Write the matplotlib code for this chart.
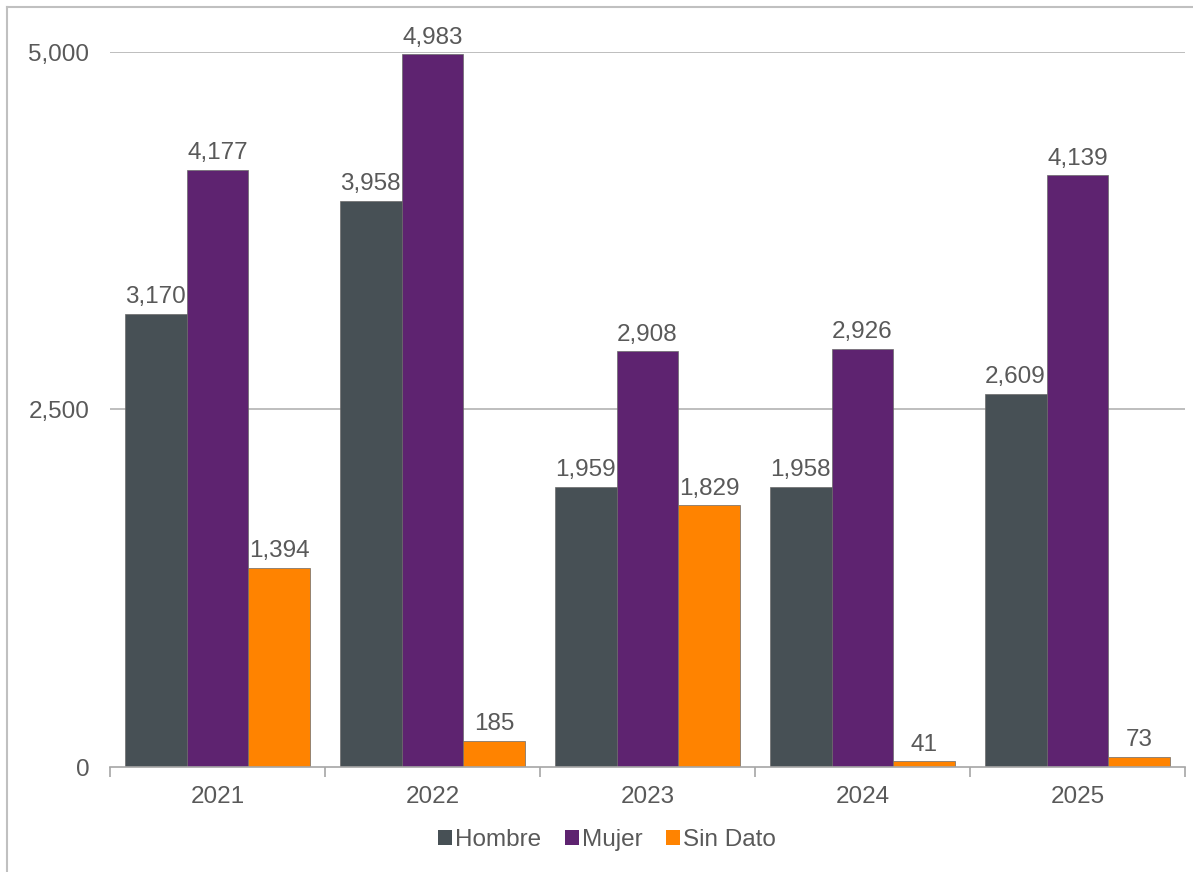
import numpy as np
import matplotlib
matplotlib.use("Agg")
import matplotlib.pyplot as plt
from matplotlib.lines import Line2D

years = ["2021", "2022", "2023", "2024", "2025"]
hombre = [3170, 3958, 1959, 1958, 2609]
mujer = [4177, 4983, 2908, 2926, 4139]
sin_dato = [1394, 185, 1829, 41, 73]

series_names = ["Hombre", "Mujer", "Sin Dato"]
series_colors = ["#475055", "#5E2370", "#FF8300"]
text_col = "#595959"
fs = 17.5

plt.rcParams['font.family'] = ['Liberation Sans', 'DejaVu Sans']

fig = plt.figure(figsize=(11.93, 8.72), dpi=100)
ax = fig.add_axes([110 / 1193, 105 / 872, 1075 / 1193, 715 / 872])

# outer frame (only top and left edges visible in the crop)
fx, fy = 7.5 / 1193, 1 - 7.5 / 872
fig.add_artist(Line2D([fx, fx], [0, fy], transform=fig.transFigure, color="#c0c0c0", lw=1.5))
fig.add_artist(Line2D([fx, 1], [fy, fy], transform=fig.transFigure, color="#c0c0c0", lw=1.5))

x = np.arange(len(years))
w = 0.288
for i, (vals, name, col) in enumerate(zip([hombre, mujer, sin_dato], series_names, series_colors)):
    bars = ax.bar(x + (i - 1) * w, vals, w, color=col, edgecolor="#6a6a6a",
                  linewidth=0.5, label=name, zorder=3)
    for b, v in zip(bars, vals):
        ax.annotate(f"{v:,}", (b.get_x() + b.get_width() / 2, v), xytext=(0, 4),
                    textcoords="offset points", ha="center", va="bottom",
                    fontsize=fs, color=text_col, clip_on=False, zorder=4)

ax.set_xlim(-0.5, len(years) - 0.5)
ax.set_ylim(0, 5000)
ax.set_yticks([0, 2500, 5000])
ax.set_yticklabels([f"{t:,}" for t in [0, 2500, 5000]])
for t in [2500, 5000]:
    ax.axhline(t, color="#b3b3b3", linewidth=1.2, zorder=1)

ax.set_xticks(x)
ax.set_xticklabels(years)
ax.set_xticks(np.arange(-0.5, len(years)), minor=True)
ax.tick_params(axis="x", which="major", length=0, pad=14, labelsize=fs, labelcolor=text_col)
ax.tick_params(axis="x", which="minor", length=7, width=1.2, color="#a6a6a6", direction="out")
ax.tick_params(axis="y", length=0, pad=15, labelsize=fs, labelcolor=text_col)

for s in ["top", "right", "left"]:
    ax.spines[s].set_visible(False)
ax.spines["bottom"].set_color("#a6a6a6")
ax.spines["bottom"].set_linewidth(1.2)
ax.spines["bottom"].set_zorder(5)

leg = fig.legend(loc="center", bbox_to_anchor=(607 / 1193, 1 - 840 / 872), ncol=3,
                 frameon=False, fontsize=fs, handlelength=0.6, handleheight=0.6,
                 handletextpad=0.12, columnspacing=0.95)
for t in leg.get_texts():
    t.set_color(text_col)
for h in leg.legend_handles:
    h.set_edgecolor("none")

fig.savefig("out.png", dpi=100, facecolor="white")
